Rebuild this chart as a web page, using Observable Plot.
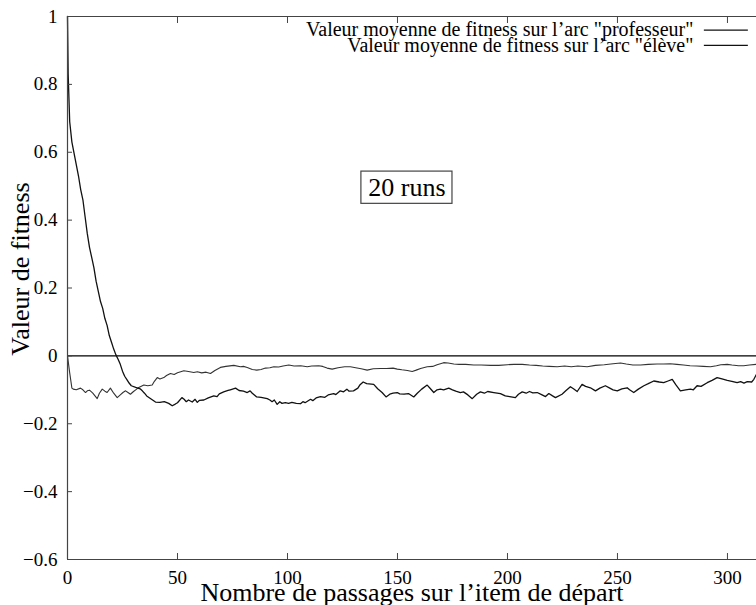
<!DOCTYPE html>
<html>
<head>
<meta charset="utf-8">
<script src="https://cdn.jsdelivr.net/npm/d3@7"></script>
<script src="https://cdn.jsdelivr.net/npm/@observablehq/plot@0.6"></script>
<style>
  html, body { margin: 0; padding: 0; background: #fff; overflow: hidden; }
  #chart svg { display: block; }
  #chart svg text { font-family: 'Liberation Serif', 'Times New Roman', serif; }
</style>
</head>
<body>
<div id="chart"></div>
<script>
// ---- data ----
const xTicks = [0, 50, 100, 150, 200, 250, 300];
const yTicks = [-0.6, -0.4, -0.2, 0, 0.2, 0.4, 0.6, 0.8, 1];

const seriesNames = ['Valeur moyenne de fitness sur l’arc "professeur"', 'Valeur moyenne de fitness sur l’arc "élève"'];

const passagesProf = [0,0.3,1,2,3.5,5,6,7,8,9,10,11,12,13,14,15,16,17,18,19,20,21,22,23,24,25,26,27,28,29,31,33,34,35,36,38,40,42,44,46,47.6,49,50,52,53,54,55,56.7,58,59,60,62,64,66.5,68,69,71,73,74,76.4,78,80,81.7,83,84,86,88,90.8,92,93,94,95.3,96.5,97.5,99,100.5,102,104,105.9,107,108,110.5,111.5,113,115,117,118.5,121,122,124,125.5,127,128,130,132,133,134.4,136,139.2,141,143,144.8,146.5,148,149.9,151,153,155,157.4,159,161,163.5,165,166.5,168,169.5,171,173.3,175,176.5,178.6,180,182,184,186,187.7,189.5,191,193.8,196.8,199,201,203.6,205,206.7,208.5,210,211.5,213.5,215.5,217.3,218.8,220.5,221.8,224.8,226.5,228.6,230,231.7,233.9,235.5,237.7,240,242,244.5,246.5,248,249.9,252,254.4,255.5,257.4,259.5,262,264,266.5,269,271,273,274.9,276.5,278.6,281,283.2,284.5,286.2,288,290.8,293,295.3,297.5,299.9,302,304.4,306,307.5,309,311,312,313.2];
const fitnessProf = [1,0.83,0.69,0.63,0.58,0.53,0.49,0.46,0.41,0.36,0.32,0.29,0.26,0.22,0.19,0.16,0.14,0.11,0.09,0.06,0.04,0.02,0.003,-0.01,-0.025,-0.045,-0.06,-0.07,-0.08,-0.088,-0.093,-0.097,-0.103,-0.11,-0.118,-0.127,-0.136,-0.137,-0.135,-0.14,-0.147,-0.142,-0.138,-0.123,-0.128,-0.135,-0.13,-0.136,-0.128,-0.137,-0.131,-0.13,-0.124,-0.118,-0.12,-0.112,-0.106,-0.102,-0.1,-0.095,-0.102,-0.104,-0.108,-0.103,-0.11,-0.121,-0.122,-0.126,-0.13,-0.135,-0.13,-0.143,-0.135,-0.14,-0.138,-0.14,-0.137,-0.14,-0.141,-0.135,-0.138,-0.128,-0.132,-0.124,-0.12,-0.122,-0.115,-0.111,-0.114,-0.103,-0.106,-0.098,-0.104,-0.103,-0.095,-0.085,-0.077,-0.082,-0.084,-0.097,-0.108,-0.121,-0.113,-0.11,-0.108,-0.112,-0.113,-0.111,-0.121,-0.11,-0.098,-0.086,-0.097,-0.108,-0.1,-0.098,-0.1,-0.095,-0.1,-0.104,-0.108,-0.106,-0.115,-0.126,-0.113,-0.106,-0.11,-0.105,-0.108,-0.111,-0.118,-0.12,-0.123,-0.113,-0.106,-0.11,-0.105,-0.109,-0.108,-0.114,-0.12,-0.111,-0.118,-0.123,-0.113,-0.103,-0.091,-0.097,-0.105,-0.084,-0.09,-0.094,-0.103,-0.095,-0.088,-0.095,-0.1,-0.103,-0.097,-0.094,-0.1,-0.108,-0.098,-0.088,-0.082,-0.074,-0.077,-0.079,-0.074,-0.069,-0.085,-0.103,-0.1,-0.098,-0.1,-0.088,-0.09,-0.079,-0.072,-0.064,-0.068,-0.072,-0.075,-0.079,-0.076,-0.08,-0.076,-0.077,-0.069,-0.054];

const passagesEleve = [0,1,2,2.6,4,5.9,7,8.2,9,10,11.5,12.5,13.5,14.5,15.8,17,18,19.5,21,22.6,24,25.2,26.4,27.5,28.6,30,31,32.4,34.7,36.5,38.5,39.5,40.8,42,43.8,45,46.8,48.5,50,52.9,55,57.4,59,61,63,65,67,69.5,72,75.6,78.6,80,81.7,84,86,88,90,92,93.8,96,98,100.6,103,106,109,111,114.2,116,118,120.3,123,126,128.6,131,133.5,136.2,139,142.3,145,148,149.9,152,154.5,156.7,158.5,160.5,163.5,166,168,171,173,175.6,178,181,184.7,188,192.3,196,200,203,206.7,210,213,216,219,222.6,226,229,232,236.2,240,244,248,251.4,254,257,260.5,264,268,271,274,277,280,283,286,289,292.3,295,297,299.9,302,305,307.4,310,313.2];
const fitnessEleve = [0,-0.05,-0.095,-0.098,-0.1,-0.095,-0.1,-0.108,-0.103,-0.101,-0.11,-0.118,-0.126,-0.11,-0.098,-0.104,-0.108,-0.095,-0.11,-0.123,-0.115,-0.108,-0.103,-0.108,-0.113,-0.105,-0.1,-0.093,-0.086,-0.088,-0.086,-0.075,-0.064,-0.068,-0.064,-0.058,-0.052,-0.055,-0.05,-0.044,-0.046,-0.049,-0.047,-0.05,-0.048,-0.052,-0.043,-0.034,-0.031,-0.028,-0.032,-0.031,-0.034,-0.04,-0.042,-0.04,-0.036,-0.035,-0.032,-0.033,-0.03,-0.027,-0.03,-0.029,-0.032,-0.03,-0.029,-0.031,-0.036,-0.039,-0.035,-0.032,-0.032,-0.035,-0.038,-0.042,-0.038,-0.037,-0.037,-0.036,-0.039,-0.041,-0.043,-0.046,-0.042,-0.037,-0.032,-0.031,-0.026,-0.02,-0.021,-0.024,-0.025,-0.025,-0.027,-0.027,-0.028,-0.028,-0.026,-0.025,-0.025,-0.027,-0.028,-0.03,-0.031,-0.032,-0.03,-0.032,-0.03,-0.032,-0.028,-0.026,-0.023,-0.021,-0.024,-0.027,-0.027,-0.025,-0.024,-0.024,-0.023,-0.025,-0.027,-0.029,-0.03,-0.031,-0.032,-0.029,-0.026,-0.025,-0.027,-0.029,-0.029,-0.027,-0.025];

// annotation
const annotText = ["20 runs"];
const annotX = [154.3];
const annotY = [0.496];
const annotBoxX = [133.6, 175];
const annotBoxY = [0.448, 0.543];

// legend placement (data units)
const legendTextX = 284.5;
const legendLineX = [289.5, 309.5];
const legendY = [0.96, 0.915];

// ---- build tables ----
const prof = passagesProf.map((x, i) => ({x, y: fitnessProf[i]}));
const eleve = passagesEleve.map((x, i) => ({x, y: fitnessEleve[i]}));
const legend = seriesNames.map((name, i) => ({name, y: legendY[i]}));

const fmtY = d => (d < 0 ? "\u2212" : "") + String(Math.abs(d));
const serif = "'Liberation Serif', 'Times New Roman', serif";

const chart = Plot.plot({
  width: 756,
  height: 605,
  marginLeft: 67,
  marginRight: 0,
  marginTop: 16,
  marginBottom: 46,
  x: {domain: [0, 313.2], label: null},
  y: {domain: [-0.6, 1], label: null},
  style: {fontFamily: serif, fontSize: "19px", background: "#fff", color: "#000", overflow: "visible"},
  marks: [
    // zero axis
    Plot.ruleY([0], {stroke: "#000", strokeWidth: 1.2}),
    // data
    Plot.line(eleve, {x: "x", y: "y", stroke: "#333", strokeWidth: 1.1}),
    Plot.line(prof, {x: "x", y: "y", stroke: "#111", strokeWidth: 1.3}),
    // border
    Plot.ruleY([-0.6, 1], {stroke: "#444", strokeWidth: 1.2}),
    Plot.ruleX([0], {stroke: "#444", strokeWidth: 1.2}),
    // axes: labels
    Plot.axisY({ticks: yTicks, tickFormat: fmtY, tickSize: 0, tickPadding: 10, fontSize: 19, fontFamily: serif, label: null}),
    Plot.axisX({ticks: xTicks, tickFormat: d => String(d), tickSize: 0, tickPadding: 11, fontSize: 19, fontFamily: serif, label: null}),
    // inward ticks
    Plot.axisY({ticks: yTicks, tickSize: -5, text: null, label: null, stroke: "#444"}),
    Plot.axisX({ticks: xTicks, tickSize: -6, text: null, label: null, stroke: "#444"}),
    Plot.axisX({anchor: "top", ticks: xTicks, tickSize: -6, text: null, label: null, stroke: "#444"}),
    // axis titles
    Plot.text(["Nombre de passages sur l’item de départ"], {frameAnchor: "bottom", dy: 33, fontSize: 26, fontFamily: serif, textAnchor: "middle", lineAnchor: "middle"}),
    Plot.text(["Valeur de fitness"], {frameAnchor: "left", rotate: -90, dx: -47, dy: -19, fontSize: 26, fontFamily: serif, textAnchor: "middle", lineAnchor: "middle"}),
    // annotation box
    Plot.rect([0], {x1: annotBoxX[0], x2: annotBoxX[1], y1: annotBoxY[0], y2: annotBoxY[1], fill: "none", stroke: "#444", strokeWidth: 1.2}),
    Plot.text(annotText, {x: annotX, y: annotY, text: d => d, fontSize: 26, fontFamily: serif, lineAnchor: "middle"}),
    // legend
    Plot.text(legend, {x: legendTextX, y: "y", text: "name", textAnchor: "end", lineAnchor: "middle", fontSize: 20, fontFamily: serif}),
    Plot.ruleY(legend, {y: "y", x1: legendLineX[0], x2: legendLineX[1], stroke: "#111", strokeWidth: 1.2})
  ]
});
document.getElementById("chart").append(chart);
</script>
</body>
</html>
